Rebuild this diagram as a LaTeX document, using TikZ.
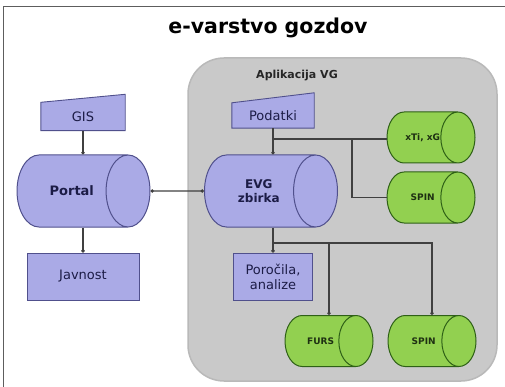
\documentclass[tikz,border=0pt]{standalone}
\usepackage{fontspec}
\setmainfont{DejaVu Sans}
\usepackage{tikz}
\usetikzlibrary{arrows.meta,positioning,shapes.geometric,backgrounds}

\definecolor{boxfill}{RGB}{170,170,230}
\definecolor{boxline}{RGB}{80,80,140}
\definecolor{boxtext}{RGB}{28,28,70}
\definecolor{dbfill}{RGB}{146,208,80}
\definecolor{dbline}{RGB}{46,96,22}
\definecolor{dbtext}{RGB}{30,48,18}
\definecolor{panelgray}{RGB}{201,201,201}
\definecolor{panelline}{RGB}{185,185,185}
\definecolor{linegray}{RGB}{64,64,64}

\pgfdeclarelayer{panel}
\pgfsetlayers{panel,background,main}

\begin{document}
\begin{tikzpicture}[x=1pt,y=-1pt,>={Circle[length=3.5pt]},node distance=85pt,
  conn/.style={draw=linegray,line width=1.1pt},
  main node/.style={cylinder,aspect=0.61,draw=boxline,fill=boxfill,line width=1pt,
    minimum height=133pt,minimum width=72pt,inner xsep=0pt,inner ysep=36pt,anchor=shape center},
  main label/.style={text=boxtext,xshift=10.5pt,align=center,
    font=\bfseries\fontsize{13}{15}\selectfont},
  db node/.style={cylinder,aspect=0.67,draw=dbline,fill=dbfill,line width=1pt,
    minimum height=88pt,minimum width=51pt,inner xsep=0pt,inner ysep=25.5pt,anchor=shape center},
  db label/.style={text=dbtext,xshift=9pt,font=\bfseries\fontsize{9}{11}\selectfont},
  box node/.style={rectangle,draw=boxline,fill=boxfill,line width=0.9pt,
    minimum height=47pt,inner sep=0pt,align=center,text=boxtext,
    font=\fontsize{13}{15}\selectfont},
  input node/.style={rectangle,minimum width=84pt,minimum height=28pt,inner sep=0pt,
    text=boxtext,font=\fontsize{13}{15}\selectfont},
  input shape/.style={draw=boxline,fill=boxfill,line width=0.9pt}]

  \useasboundingbox (0,0) rectangle (505,387);
  \draw[linegray!85,line width=1pt] (3,387) -- (3,7) -- (505,7);

  \node[font=\bfseries\fontsize{20.5}{24}\selectfont] (0) at (268,28) {e-varstvo gozdov};

  % left side
  \node[main node, label={[main label]center:Portal}] (1) at (83.5,191) {};
  \node[input node] (2) at (83,116.5) {GIS};
  \node[box node, minimum width=112pt] (3) at (83,276.5) {Javnost};

  % Aplikacija VG
  \node[main node, label={[main label, xshift=-0.5pt, font=\bfseries\fontsize{12}{14}\selectfont]center:EVG\\zbirka}] (4) at (271,191) {};
  \node[input node, minimum width=82pt, minimum height=25pt] (5) at (273,115.5) {Podatki};
  \node[box node, minimum width=79pt] (6) [below of=5, node distance=161pt] {Poro\v{c}ila,\\analize};
  \node[db node, label={[db label]center:xTi, xG}] (7) at (431,137.5) {};
  \node[db node, label={[db label]center:SPIN}] (8) at (431,197.5) {};
  \node[db node, label={[db label]center:FURS}] (9) at (329,341) {};
  \node[db node, label={[db label]center:SPIN}] (10) at (432,341) {};

  \coordinate (a) at (273,139);
  \coordinate (b) at (352,139);
  \coordinate (c) at (273,243);

  \begin{pgfonlayer}{background}
    \filldraw[input shape] (2.south west) -- (2.north west) -- ([yshift=8pt]2.north east) -- (2.south east) -- cycle;
    \filldraw[input shape] (5.south west) -- (5.north west) -- ([yshift=10pt]5.north east) -- (5.south east) -- cycle;
  \end{pgfonlayer}

  \begin{pgfonlayer}{panel}
    \filldraw[fill=panelgray,draw=panelline,line width=1.5pt,rounded corners=36pt] (188,58) rectangle (497,381);
    \node[font=\bfseries\fontsize{11}{13}\selectfont,text=black!85] (11) at (297,76) {Aplikacija VG};
  \end{pgfonlayer}

  \path[conn]
    (2.south) edge [->] (2.south |- 1.north)
    (3.north |- 1.south) edge [->] (3.north)
    (1) edge [<->] (4)
    (5.south) edge [->] (5.south |- 4.north)
    (a) edge (a -| 7.west)
    (6.north |- 4.south) edge [->] (6.north);

  \draw[conn] (b) |- (8.west);
  \draw[conn,->] (c) -| (9.shape center |- 9.north);
  \draw[conn,->] (c) -| (10.shape center |- 10.north);

\end{tikzpicture}
\end{document}
